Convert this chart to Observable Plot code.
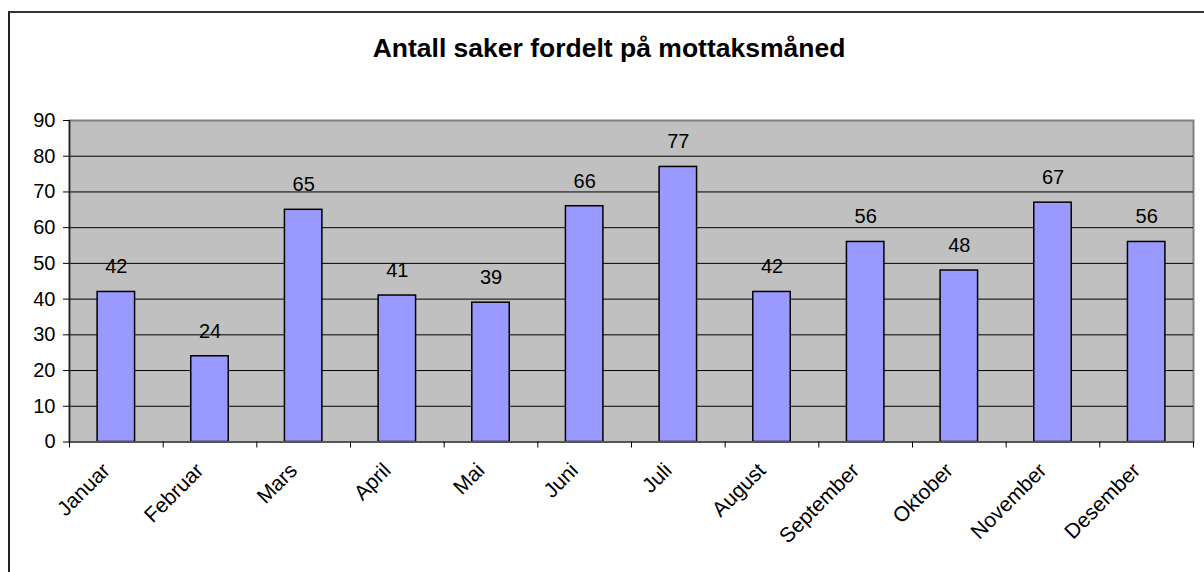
<!DOCTYPE html>
<html>
<head>
<meta charset="utf-8">
<script src="https://cdn.jsdelivr.net/npm/d3@7"></script>
<script src="https://cdn.jsdelivr.net/npm/@observablehq/plot@0.6"></script>
<style>
  html, body { margin: 0; padding: 0; background: #fff; overflow: hidden; }
  #wrap { position: relative; width: 1204px; height: 572px; font-family: "Liberation Sans", Arial, sans-serif; }
  #border { position: absolute; left: 8px; top: 11px; width: 1220px; height: 600px; border-left: 2px solid #222; border-top: 2px solid #333; box-sizing: border-box; }
  #title { position: relative; height: 90px; width: 1202px; margin-left: 8px; text-align: center; font-weight: bold; font-size: 26.5px; line-height: 30px; padding-top: 33px; box-sizing: border-box; color: #000; }
  #chart svg { display: block; }
</style>
</head>
<body>
<div id="wrap">
  <div id="border"></div>
  <div id="title">Antall saker fordelt på mottaksmåned</div>
  <div id="chart"></div>
</div>
<script>
const months = ["Januar","Februar","Mars","April","Mai","Juni","Juli","August","September","Oktober","November","Desember"];
const counts = [42, 24, 65, 41, 39, 66, 77, 42, 56, 48, 67, 56];
const yTicks = [0, 10, 20, 30, 40, 50, 60, 70, 80, 90];
const gridTicks = [10, 20, 30, 40, 50, 60, 70, 80];

const data = months.map((m, i) => ({month: m, value: counts[i]}));

const W = 1204, H = 482, ML = 69, MR = 11, MT = 30, MB = 130.5;
const step = (W - ML - MR) / months.length;

const chart = Plot.plot({
  width: W,
  height: H,
  marginLeft: ML,
  marginRight: MR,
  marginTop: MT,
  marginBottom: MB,
  style: {fontFamily: "'Liberation Sans', Arial, sans-serif", color: "#000", background: "transparent"},
  x: {type: "band", domain: months, paddingInner: 0.6, paddingOuter: 0.3, round: false, label: null},
  y: {domain: [0, 90], label: null},
  marks: [
    Plot.frame({fill: "#C0C0C0", stroke: "#808080", strokeWidth: 2}),
    Plot.gridY(gridTicks, {stroke: "#000", strokeOpacity: 1, strokeWidth: 1}),
    Plot.barY(data, {x: "month", y: "value", fill: "#9999FF", stroke: "#000", strokeWidth: 1.5}),
    Plot.ruleY([0], {stroke: "#555", strokeWidth: 2}),
    Plot.ruleX([months[0]], {dx: -step / 2, y1: 0, y2: 90, stroke: "#222", strokeWidth: 1.5}),
    Plot.ruleX(months, {dx: -step / 2, y1: 0, y2: 0, insetBottom: -6, stroke: "#000", strokeWidth: 1}),
    Plot.ruleX([months[months.length - 1]], {dx: step / 2, y1: 0, y2: 0, insetBottom: -6, stroke: "#000", strokeWidth: 1}),
    Plot.text(data, {x: "month", y: "value", text: d => String(d.value), dy: -25, fontSize: 20, fill: "#000"}),
    Plot.axisY(yTicks, {tickSize: 6, tickPadding: 8, fontSize: 20, stroke: "#000", label: null}),
    Plot.axisX({tickSize: 0, tickRotate: -45, tickPadding: 25, dx: -10, fontSize: 21, label: null})
  ]
});
document.getElementById("chart").appendChild(chart);
</script>
</body>
</html>
